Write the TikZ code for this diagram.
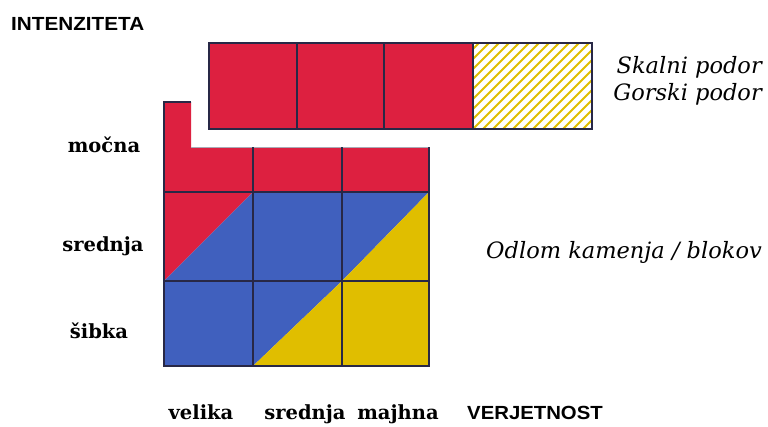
\documentclass[tikz,border=0pt]{standalone}
\usepackage{fontspec}
\newfontfamily\lblfont{DejaVu Serif}
\newfontfamily\capfont{Liberation Sans}
\definecolor{cred}{RGB}{221,32,64}
\definecolor{cblue}{RGB}{64,96,190}
\definecolor{cyel}{RGB}{224,190,0}
\definecolor{cline}{RGB}{40,40,70}
\begin{document}
\begin{tikzpicture}[x=1pt,y=-1pt,
  grid/.style={draw=cline,line width=1.8pt},
  axislbl/.style={font=\capfont\bfseries\fontsize{19}{19}\selectfont,inner sep=0pt},
  rowlbl/.style={font=\lblfont\bfseries\fontsize{19.5}{19.5}\selectfont,inner sep=0pt},
  legend/.style={font=\lblfont\itshape\fontsize{22.5}{22.5}\selectfont,inner sep=0pt}]
\useasboundingbox (0,0) rectangle (768,426);
% top bar
\fill[cred] (209,43) rectangle (473,129);
\begin{scope}
\clip (473,43) rectangle (592,129);
\foreach \i in {0,...,22} {
  \draw[cyel,line width=2pt] (473+\i*10-90,129) -- (473+\i*10,39);
}
\end{scope}
\draw[grid] (209,43) rectangle (592,129);
\foreach \x in {297,384,473} \draw[grid] (\x,43) -- (\x,129);
% lower grid fills
\fill[cred] (164,102) -- (191,102) -- (191,147) -- (429,147) -- (429,192) -- (164,192) -- cycle;
\fill[cred] (164,192) -- (253,192) -- (164,281) -- cycle;
\fill[cblue] (253,192) -- (253,281) -- (164,281) -- cycle;
\fill[cblue] (253,192) rectangle (342,281);
\fill[cblue] (342,192) -- (429,192) -- (342,281) -- cycle;
\fill[cyel] (429,192) -- (429,281) -- (342,281) -- cycle;
\fill[cblue] (164,281) rectangle (253,366);
\fill[cblue] (253,281) -- (342,281) -- (253,366) -- cycle;
\fill[cyel] (342,281) -- (342,366) -- (253,366) -- cycle;
\fill[cyel] (342,281) rectangle (429,366);
% lower grid lines
\draw[cline!40,line width=1pt] (191,147) -- (429,147);
\draw[grid] (191,102) -- (164,102) -- (164,366) -- (429,366) -- (429,147);
\foreach \x in {253,342} \draw[grid] (\x,147) -- (\x,366);
\foreach \y in {192,281} \draw[grid] (164,\y) -- (429,\y);
% labels
\node[axislbl,anchor=base west] (intenz) at (11,30) {\scalebox{1.09}[1.0]{INTENZITETA}};
\node[axislbl,anchor=base west] (verj) at (467,419) {\scalebox{1.07}[1.0]{VERJETNOST}};
\node[rowlbl,anchor=base] (mocna) at (104,152) {močna};
\node[rowlbl,anchor=base] (sred) at (103,251) {srednja};
\node[rowlbl,anchor=base] (sibka) at (99,338) {šibka};
\node[rowlbl,anchor=base] (velika) at (201,419) {velika};
\node[rowlbl,anchor=base] (sred2) at (305,419) {srednja};
\node[rowlbl,anchor=base] (majhna) at (398,419) {majhna};
\node[legend,anchor=base east] (skalni) at (762,73) {Skalni podor};
\node[legend,anchor=base east] (gorski) at (762,100) {Gorski podor};
\node[legend,anchor=base east] (odlom) at (762,258) {Odlom kamenja / blokov};
\end{tikzpicture}
\end{document}
